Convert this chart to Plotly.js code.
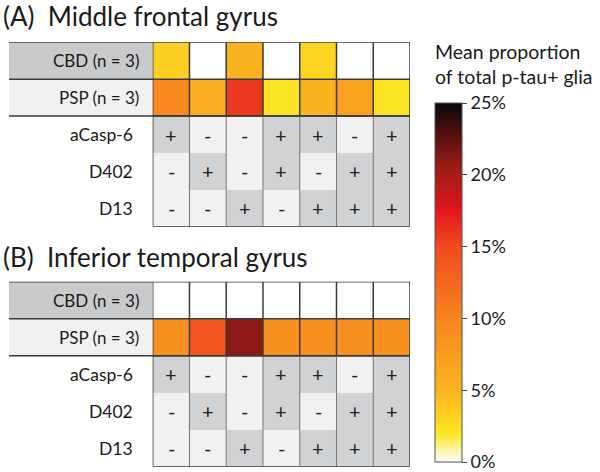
<!DOCTYPE html>
<html>
<head>
<meta charset="utf-8">
<script src="https://cdn.plot.ly/plotly-3.0.1.min.js"></script>
<style>html,body{margin:0;padding:0;background:#fff;}#chart{width:600px;height:472px;}</style>
</head>
<body>
<div id="chart"></div>
<script>
// ---- data ----
const combos = ['1', '2', '3', '4', '5', '6', '7'];
const groupLabels = ['CBD (n = 3)', 'PSP (n = 3)'];
const markerLabels = ['aCasp-6', 'D402', 'D13'];
const aCasp6 = ['+', '-', '-', '+', '+', '-', '+'];
const d402   = ['-', '+', '-', '+', '-', '+', '+'];
const d13    = ['-', '-', '+', '-', '+', '+', '+'];
const mfgCBD = [3.3, 0, 5.0, 0, 3.0, 0, 0];
const mfgPSP = [9.5, 5.6, 15.9, 2.0, 5.0, 7.0, 2.0];
const itgCBD = [0, 0, 0, 0, 0, 0, 0];
const itgPSP = [8.75, 14.0, 21.0, 8.75, 8.75, 8.75, 8.75];
const panelTitles = ['(A)  Middle frontal gyrus', '(B)  Inferior temporal gyrus'];
const cbTicks = [0, 5, 10, 15, 20, 25];

// ---- layout constants (pixels) ----
const W = 600, H = 472;
const FONT = 'Lato, "Open Sans", sans-serif';
const gridX0 = 152.7, gridX1 = 410, labelX0 = 9;
const panels = [
  {top: 42.3, bottom: 226.7, titleY: 16},
  {top: 281.7, bottom: 466.7, titleY: 257}
];
const colorscale = [
  [0, '#ffffff'], [0.08, '#fde524'], [0.2, '#fbb41f'], [0.4, '#f7841f'],
  [0.6, '#f04a1f'], [0.7, '#e3161b'], [0.82, '#9c1b18'], [1, '#0a0808']
];
const px = v => v / W;
const py = v => 1 - v / H;

const markerRows = [aCasp6, d402, d13];
const valueSets = [[mfgCBD, mfgPSP], [itgCBD, itgPSP]];
const traces = [];
const shapes = [];
const annotations = [];
const layout = {
  width: W, height: H,
  margin: {l: 0, r: 0, t: 0, b: 0},
  paper_bgcolor: '#fff', plot_bgcolor: '#fff',
  font: {family: FONT, color: '#1a1a1a'},
  showlegend: false
};

panels.forEach((p, i) => {
  const xa = i === 0 ? 'x' : 'x2', ya = i === 0 ? 'y' : 'y2';
  const xk = i === 0 ? 'xaxis' : 'xaxis2', yk = i === 0 ? 'yaxis' : 'yaxis2';
  layout[xk] = {domain: [px(gridX0), px(gridX1)], range: [-0.5, 6.5], visible: false, fixedrange: true, anchor: ya};
  layout[yk] = {domain: [py(p.bottom), py(p.top)], range: [4.5, -0.5], visible: false, fixedrange: true, anchor: xa};

  // value heatmap (rows 0,1)
  const showCb = i === 1;
  traces.push({
    type: 'heatmap', xaxis: xa, yaxis: ya,
    x: combos.map((c, k) => k), y: [0, 1],
    z: valueSets[i],
    zmin: 0, zmax: 25, colorscale: colorscale,
    showscale: showCb, hoverinfo: 'skip',
    colorbar: showCb ? {
      x: px(435), xanchor: 'left', y: py(462), yanchor: 'bottom',
      thickness: 27, thicknessmode: 'pixels', len: 359, lenmode: 'pixels',
      xpad: 0, ypad: 0, outlinewidth: 1, outlinecolor: '#555',
      tickvals: cbTicks, ticktext: cbTicks.map(t => t + '%'),
      ticks: 'outside', ticklen: 5, tickcolor: '#444', tickwidth: 1,
      ticklabeloverflow: 'allow',
      tickfont: {family: FONT, size: 18, color: '#1a1a1a'}
    } : undefined
  });

  // marker +/- heatmap (rows 2..4)
  traces.push({
    type: 'heatmap', xaxis: xa, yaxis: ya,
    x: combos.map((c, k) => k), y: [2, 3, 4],
    z: markerRows.map(r => r.map(s => s === '+' ? 1 : 0)),
    zmin: 0, zmax: 1,
    colorscale: [[0, '#f1f1f2'], [1, '#d1d2d4']],
    showscale: false, hoverinfo: 'skip'
  });
  markerRows.forEach((row, r) => {
    row.forEach((s, k) => {
      annotations.push({xref: xa, yref: ya, x: k, y: r + 2, xanchor: 'center', yanchor: 'middle',
        text: s, showarrow: false, font: {family: FONT, size: 20, color: '#222'}});
    });
  });

  // label boxes
  const boxFills = ['#c9cacc', '#f1f1f2'];
  groupLabels.forEach((g, r) => {
    shapes.push({type: 'rect', xref: 'paper', yref: ya, x0: px(labelX0), x1: px(gridX0), y0: r - 0.5, y1: r + 0.5,
      fillcolor: boxFills[r], line: {width: 0}, layer: 'below'});
    annotations.push({xref: 'paper', yref: ya, x: px(141), y: r, xanchor: 'right', yanchor: 'middle',
      text: g, showarrow: false, font: {family: FONT, size: 17, color: '#1a1a1a'}});
  });
  markerLabels.forEach((m, r) => {
    annotations.push({xref: 'paper', yref: ya, x: px(135), y: r + 2, xanchor: 'right', yanchor: 'middle',
      text: m, showarrow: false, font: {family: FONT, size: 17.5, color: '#1a1a1a'}});
  });

  // horizontal lines across label + value rows
  [-0.5, 0.5, 1.5].forEach(yv => {
    shapes.push({type: 'line', xref: 'paper', yref: ya, x0: px(labelX0), x1: px(gridX1), y0: yv, y1: yv,
      line: {color: '#3a3a3a', width: 1.5}});
  });
  // vertical lines in value rows
  for (let k = 0; k <= combos.length; k++) {
    shapes.push({type: 'line', xref: xa, yref: ya, x0: k - 0.5, x1: k - 0.5, y0: -0.5, y1: 1.5,
      line: {color: '#3a3a3a', width: 1.5}});
  }
  // vertical lines in marker rows
  for (let k = 1; k < combos.length; k++) {
    shapes.push({type: 'line', xref: xa, yref: ya, x0: k - 0.5, x1: k - 0.5, y0: 1.5, y1: 4.5,
      line: {color: '#777', width: 1}});
  }
  // outer border of marker rows
  shapes.push({type: 'rect', xref: xa, yref: ya, x0: -0.5, x1: 6.5, y0: 1.5, y1: 4.5,
    line: {color: '#3a3a3a', width: 1.5}, fillcolor: 'rgba(0,0,0,0)'});

  // panel title
  annotations.push({xref: 'paper', yref: 'paper', x: px(1), y: py(p.titleY), xanchor: 'left', yanchor: 'middle',
    text: panelTitles[i], showarrow: false, font: {family: FONT, size: 26, color: '#1a1a1a'}});
});

// colorbar title
annotations.push({xref: 'paper', yref: 'paper', x: px(433), y: py(64), xanchor: 'left', yanchor: 'middle',
  text: 'Mean proportion<br>of total p-tau+ glia', align: 'left', showarrow: false,
  font: {family: FONT, size: 19.5, color: '#1a1a1a'}});

layout.shapes = shapes;
layout.annotations = annotations;

Plotly.newPlot('chart', traces, layout, {staticPlot: true, displayModeBar: false});
</script>
</body>
</html>
